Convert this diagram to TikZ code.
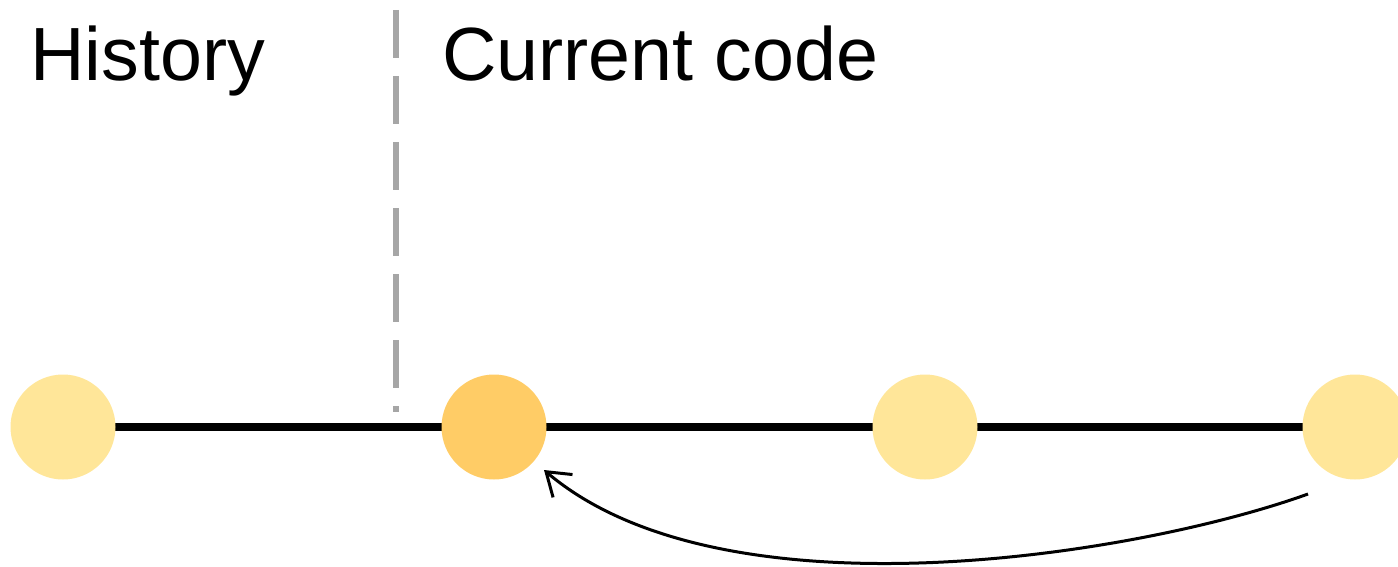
\documentclass[tikz,border=0pt]{standalone}
\usepackage{fontspec}
\setmainfont{Liberation Sans}
\usetikzlibrary{arrows.meta,calc}
\definecolor{lightc}{HTML}{FFE699}
\definecolor{darkc}{HTML}{FFCC66}
\definecolor{dashc}{HTML}{A6A6A6}
\tikzset{
  commit/.style={circle, inner sep=0pt, minimum size=52.5pt, fill=lightc, draw=none},
  headcommit/.style={commit, fill=darkc},
  label/.style={inner sep=0pt, anchor=base west, font=\fontsize{37.7pt}{45pt}\selectfont},
  chain/.style={line width=3.75pt, black},
  divider/.style={line width=3pt, dashc, dash pattern=on 24pt off 9pt},
  revert/.style={line width=1.5pt, black, -{Straight Barb[length=11pt,width=15pt,line width=1.5pt]}}
}
\begin{document}
\begin{tikzpicture}[x=0.5pt,y=-0.5pt]
\useasboundingbox (0,0) rectangle (1398,567);
\node[label] (hist) at (30,81) {History};
\node[label] (curr) at (442,81) {Current code};
\coordinate (dtop) at (396,10);
\coordinate (dbot) at (396,412);
\draw[divider] (dtop) -- (dbot);
\coordinate (p1) at (63,427);
\coordinate (p2) at (494,427);
\coordinate (p3) at (925,427);
\coordinate (p4) at (1355,427);
\draw[chain] (p1) -- (p4);
\node[commit] (c1) at (p1) {};
\node[headcommit] (c2) at (p2) {};
\node[commit] (c3) at (p3) {};
\node[commit] (c4) at (p4) {};
\coordinate (as) at ($(c4.center)+(-47,67)$);
\coordinate (ae) at ($(c2.center)+(50,43)$);
\draw[revert] (as) .. controls (1139,555) and (724,623) .. (ae);
\end{tikzpicture}
\end{document}
